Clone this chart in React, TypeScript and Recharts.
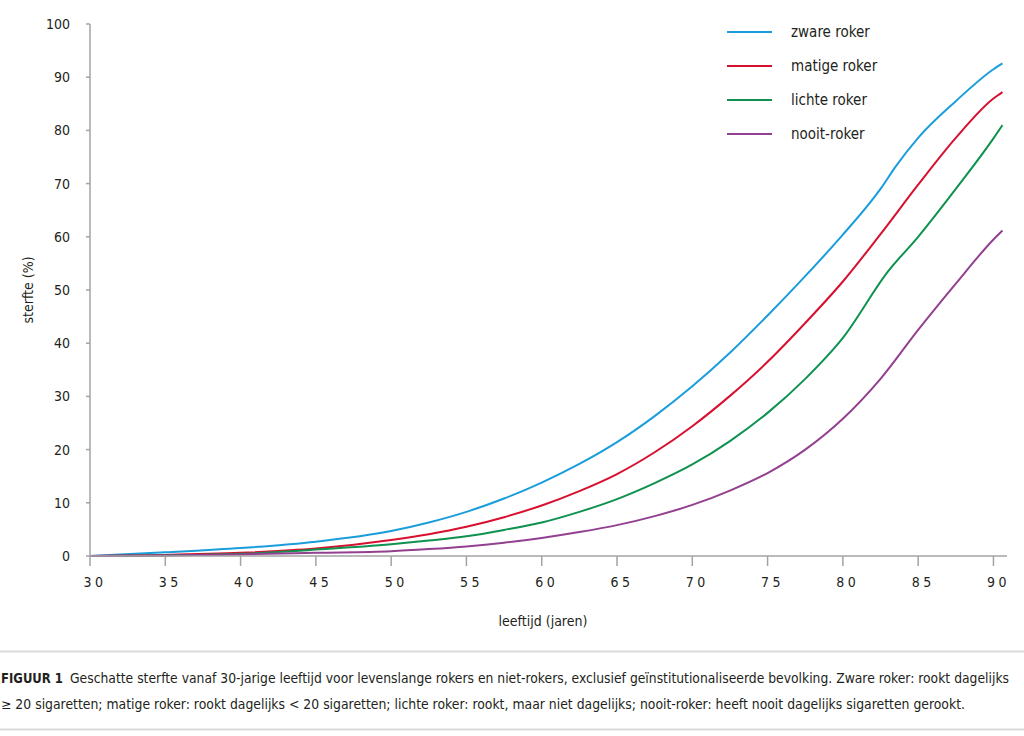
import React from 'react'
import { Line, LineChart, XAxis, YAxis } from 'recharts'

// null = no reading at that age for the series (line is drawn through it)
const ages = [30, 35, 40, 45, 50, 52.5, 55, 57.5, 60, 62.5, 65, 67.5, 70, 72.5, 75, 77.5, 80, 82.5, 83, 83.5, 85, 87.5, 90, 90.6]
const zwareRoker = [0, 0.7, 1.5, 2.7, 4.7, 6.3, 8.3, 10.8, 13.8, 17.3, 21.4, 26.3, 31.9, 38.2, 45.2, 52.6, 60.4, 69, null, 73.2, 78.6, 85.5, 91.5, 92.6]
const matigeRoker = [0, 0.2, 0.6, 1.4, 3.0, 4.1, 5.5, 7.3, 9.5, 12.2, 15.4, 19.5, 24.4, 30.1, 36.5, 43.8, 51.6, 60.5, null, null, 69.8, 78.6, 86, 87.2]
const lichteRoker = [0, 0.1, 0.4, 1.2, 2.2, 2.9, 3.7, 4.9, 6.3, 8.3, 10.7, 13.7, 17.2, 21.6, 26.9, 33.3, 41, null, 53.5, null, 60, 69, 78.5, 81]
const nooitRoker = [0, 0.1, 0.3, 0.6, 0.9, 1.3, 1.8, 2.5, 3.4, 4.5, 5.8, 7.5, 9.6, 12.3, 15.6, 20.0, 25.8, 33.3, null, null, 42.5, 51.2, 59.5, 61.2]

const xTicks = [30, 35, 40, 45, 50, 55, 60, 65, 70, 75, 80, 85, 90]
const yTicks = [0, 10, 20, 30, 40, 50, 60, 70, 80, 90, 100]

const series = [
  { key: 'zwaar', name: 'zware roker', color: '#1a9edb' },
  { key: 'matig', name: 'matige roker', color: '#d7102f' },
  { key: 'licht', name: 'lichte roker', color: '#0f9150' },
  { key: 'nooit', name: 'nooit-roker', color: '#92408f' },
]

const data = ages.map((age, i) => ({
  age,
  zwaar: zwareRoker[i],
  matig: matigeRoker[i],
  licht: lichteRoker[i],
  nooit: nooitRoker[i],
}))

const FONT = "'DejaVu Sans', sans-serif"
const INK = '#231f20'
const AXIS = '#a3a3a3'

const XTick = ({ x, y, payload }: any) => (
  <text x={ x + 5 } y={ y } dy="0.71em" textAnchor="middle" fontFamily={ FONT } fontStretch="condensed"
        fontSize={ 14 } fill={ INK } letterSpacing={ 3.5 }>
    { payload.value }
  </text>
)

const YTick = ({ x, y, payload }: any) => (
  <text x={ x } y={ y } dy="0.35em" textAnchor="end" fontFamily={ FONT } fontStretch="condensed"
        fontSize={ 14 } fill={ INK }>
    { payload.value }
  </text>
)

export default function App() {
  return (
    <div style={ { position: 'absolute', left: 0, top: 0, width: 1024, height: 736, background: '#fff' } }>
      <LineChart width={ 1024 } height={ 640 } data={ data }
                 margin={ { top: 24, right: 17, bottom: 54, left: 30 } }>
        <XAxis dataKey="age" type="number" domain={ [30, 90.9] } ticks={ xTicks } allowDataOverflow
               stroke={ AXIS } strokeWidth={ 1.5 } tickSize={ 10 } tickMargin={ 11 } height={ 30 }
               tick={ <XTick /> } tickLine={ { stroke: AXIS, strokeWidth: 1.5 } } />
        <YAxis type="number" domain={ [0, 100] } ticks={ yTicks } width={ 60 }
               stroke={ AXIS } strokeWidth={ 1.5 } tickSize={ 4 } tickMargin={ 16 } tick={ <YTick /> } />
        { series.map(s => (
          <Line key={ s.key } type="monotone" dataKey={ s.key } name={ s.name } stroke={ s.color }
                strokeWidth={ 2 } dot={ false } connectNulls isAnimationActive={ false } />
        )) }
      </LineChart>

      <svg width={ 1024 } height={ 736 } style={ { position: 'absolute', left: 0, top: 0, pointerEvents: 'none' } }
           fontFamily={ FONT } fontStretch="condensed" fill={ INK }>
        <text transform="rotate(-90, 28, 290)" x={ 28 } y={ 290 } dy="0.35em" textAnchor="middle"
              fontSize={ 14 }>sterfte (%)</text>
        <text x={ 543 } y={ 621 } dy="0.35em" textAnchor="middle" fontSize={ 14 }>leeftijd (jaren)</text>
        { series.map((s, i) => (
          <g key={ s.key }>
            <line x1={ 727 } x2={ 772 } y1={ 32 + i * 34 } y2={ 32 + i * 34 } stroke={ s.color } strokeWidth={ 2 } />
            <text x={ 791 } y={ 32 + i * 34 } dy="0.35em" fontSize={ 15 }>{ s.name }</text>
          </g>
        )) }
        <line x1={ 0 } x2={ 1024 } y1={ 651.5 } y2={ 651.5 } stroke="#d9d9d9" strokeWidth={ 2 } />
        <line x1={ 0 } x2={ 1024 } y1={ 729.5 } y2={ 729.5 } stroke="#d9d9d9" strokeWidth={ 2 } />
        <text x={ 1 } y={ 683 } fontSize={ 14 } fontWeight="bold" textLength={ 62 } lengthAdjust="spacingAndGlyphs">
          FIGUUR 1
        </text>
        <text x={ 70 } y={ 683 } fontSize={ 13.5 } textLength={ 939 } lengthAdjust="spacingAndGlyphs">
          Geschatte sterfte vanaf 30-jarige leeftijd voor levenslange rokers en niet-rokers, exclusief geïnstitutionaliseerde bevolking. Zware roker: rookt dagelijks
        </text>
        <text x={ 1 } y={ 709 } fontSize={ 13.5 } textLength={ 964 } lengthAdjust="spacingAndGlyphs">
          ≥ 20 sigaretten; matige roker: rookt dagelijks &lt; 20 sigaretten; lichte roker: rookt, maar niet dagelijks; nooit-roker: heeft nooit dagelijks sigaretten gerookt.
        </text>
      </svg>
    </div>
  )
}
